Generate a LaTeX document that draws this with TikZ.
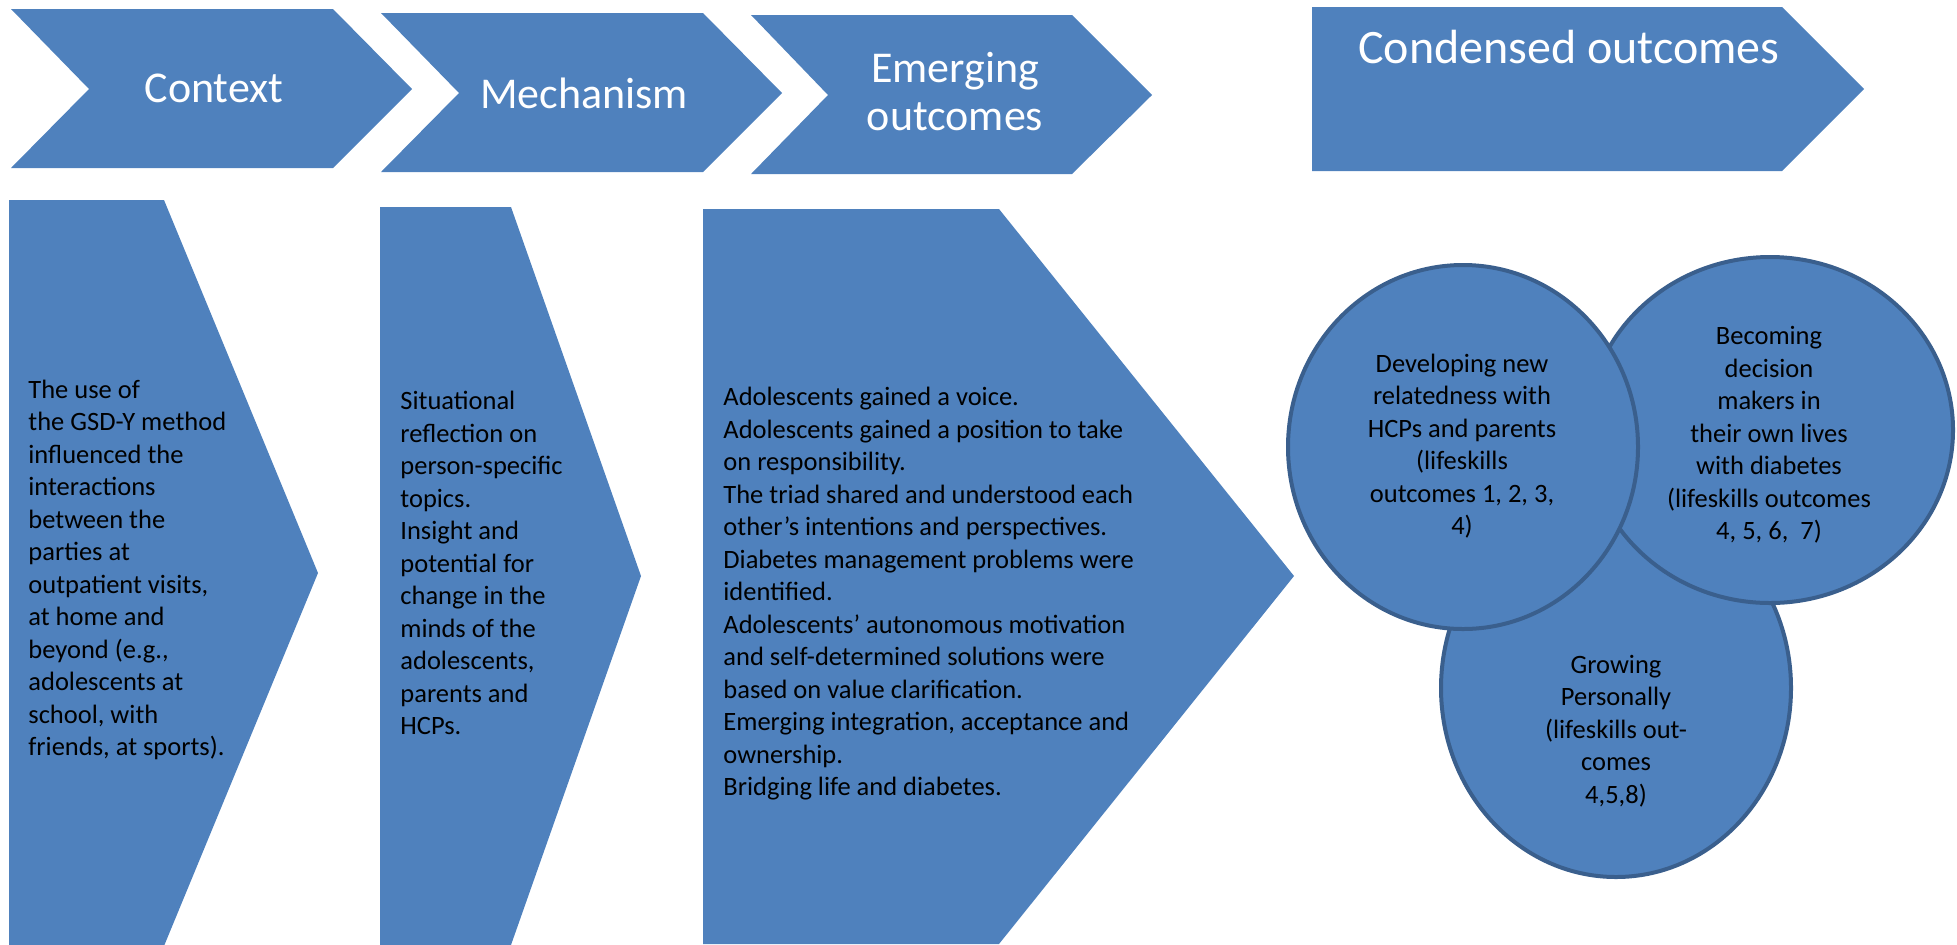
\documentclass[tikz,border=0pt]{standalone}
\usepackage{fontspec}
\setmainfont{Carlito}
\definecolor{stepblue}{HTML}{4F81BD}
\definecolor{ringblue}{HTML}{3A5F8D}

\begin{document}
\begin{tikzpicture}[
  x=0.5pt,y=-0.5pt,
  band/.style={fill=stepblue},
  title/.style={text=white,font=\fontsize{22}{24}\selectfont,align=center,inner sep=0pt},
  body/.style={text=black,font=\fontsize{13.25}{16.25}\selectfont,align=left,anchor=west,inner sep=0pt},
  bubble/.style={fill=stepblue,draw=ringblue,line width=2pt},
  bubbletext/.style={text=black,font=\fontsize{13.25}{16.25}\selectfont,align=center,inner sep=0pt}
]
  % Page in pixel units: 1957 x 944, y pointing down.
  \useasboundingbox (0,0) rectangle (1957,944);

  % Header row: three chevrons and the closing pentagon.
  \fill[band] (11,9) -- (333,9) -- (412,89) -- (333,168) -- (11,168) -- (89,89) -- cycle;
  \fill[band] (381,13) -- (703,13) -- (782,93) -- (703,172) -- (381,172) -- (459,93) -- cycle;
  \fill[band] (751,15) -- (1072,15) -- (1152,95) -- (1072,174) -- (751,174) -- (828,95) -- cycle;
  \fill[band] (1312,7) -- (1782,7) -- (1864,89) -- (1782,171) -- (1312,171) -- cycle;

  \node[title] (context) at (214,88) {Context};
  \node[title] (mechanism) at (584,93) {Mechanism};
  \node[title] (emerging) at (955,92) {Emerging\\outcomes};
  \node[title,font=\fontsize{24}{26}\selectfont] (condensed) at (1569,47) {Condensed outcomes};

  % Body row: tall arrows, cut off by the lower page edge.
  \fill[band] (9,200) -- (164,200) -- (318,573) -- (164,946) -- (9,946) -- cycle;
  \fill[band] (380,207) -- (511,207) -- (641,576) -- (511,945) -- (380,945) -- cycle;
  \fill[band] (703,209) -- (999,209) -- (1294,576) -- (999,944) -- (703,944) -- cycle;

  \node[body] (contexttext) at (28,570) {The use of\\the GSD-Y method\\influenced the\\interactions\\between the\\parties at\\outpatient visits,\\at home and\\beyond (e.g.,\\adolescents at\\school, with\\friends, at sports).};
  \node[body] (mechanismtext) at (400,563) {Situational\\reflection on\\person-specific\\topics.\\Insight and\\potential for\\change in the\\minds of the\\adolescents,\\parents and\\HCPs.};
  \node[body] (emergingtext) at (723,594) {Adolescents gained a voice.\\Adolescents gained a position to take\\on responsibility.\\The triad shared and understood each\\other’s intentions and perspectives.\\Diabetes management problems were\\identified.\\Adolescents’ autonomous motivation\\and self-determined solutions were\\based on value clarification.\\Emerging integration, acceptance and\\ownership.\\Bridging life and diabetes.};

  % Condensed outcomes: overlapping bubbles, lowest first.
  \filldraw[bubble] (1616,688) ellipse [x radius=87.5pt,y radius=94.5pt];
  \node[bubbletext] (growing) at (1616,731) {Growing\\Personally\\(lifeskills out-\\comes\\4,5,8)};

  \filldraw[bubble] (1770,430) ellipse [x radius=91.5pt,y radius=86.5pt];
  \node[bubbletext] (deciding) at (1769,435) {Becoming\\decision\\makers in\\their own lives\\with diabetes\\(lifeskills outcomes\\4, 5, 6,\ \ 7)};

  \filldraw[bubble] (1463,447) ellipse [x radius=87.5pt,y radius=91pt];
  \node[bubbletext] (relating) at (1462,446) {Developing new\\relatedness with\\HCPs and parents\\(lifeskills\\outcomes 1, 2, 3,\\4)};
\end{tikzpicture}
\end{document}
